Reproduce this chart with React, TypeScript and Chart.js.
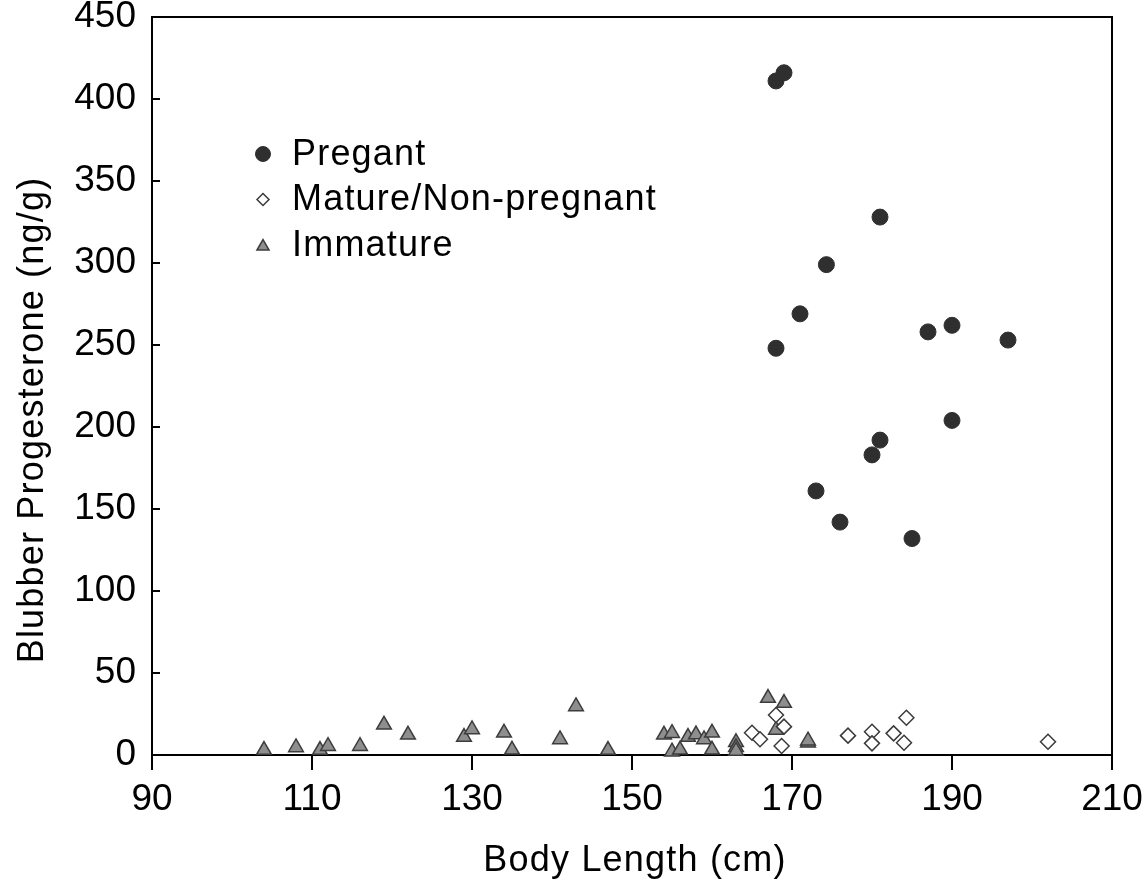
import React, { useEffect, useRef } from 'react';
import { Chart, registerables } from 'chart.js';

Chart.register(...registerables);

const xTicks = [90, 110, 130, 150, 170, 190, 210];
const yTicks = [0, 50, 100, 150, 200, 250, 300, 350, 400, 450];

const seriesLabels = ['Pregant', 'Mature/Non-pregnant', 'Immature'];
const xTitle = 'Body Length (cm)';
const yTitle = 'Blubber Progesterone (ng/g)';

const pregnantX = [168, 169, 181, 174.3, 171, 168, 187, 190, 197, 190, 181, 180, 173, 176, 185];
const pregnantY = [411, 416, 328, 299, 269, 248, 258, 262, 253, 204, 192, 183, 161, 142, 132];

const matureX = [165, 166, 168, 169, 168.7, 177, 180, 180, 182.7, 184.3, 184, 202];
const matureY = [13.6, 9.6, 24.4, 17.3, 5.5, 11.8, 14.2, 7.1, 13.2, 22.7, 7.5, 8.1];

const immatureX = [104, 108, 111, 112, 116, 119, 122, 129, 130, 134, 135, 141, 143, 147, 154, 155, 155, 156, 157, 158, 159, 160, 160, 163, 163, 163, 167, 169, 168, 172, 172];
const immatureY = [3, 4.6, 3, 5.4, 5.4, 18.4, 12.3, 10.9, 15.6, 13.5, 3.2, 9.5, 29.6, 3, 12.3, 13.3, 2, 3.2, 10.9, 12.5, 9.5, 13.5, 3.2, 7.7, 4.7, 2.5, 34.7, 31.7, 15.3, 7.4, 8.7];

const FONT = "'Liberation Sans', Arial, Helvetica, sans-serif";

const toPts = (xs: number[], ys: number[]) => xs.map((x, i) => ({ x, y: ys[i] }));

function drawMarker(ctx: CanvasRenderingContext2D, style: string, x: number, y: number, r: number, fill: string, stroke: string, lw: number) {
  ctx.beginPath();
  if (style === 'circle') {
    ctx.arc(x, y, r, 0, Math.PI * 2);
  } else if (style === 'rectRot') {
    ctx.moveTo(x - r, y);
    ctx.lineTo(x, y - r);
    ctx.lineTo(x + r, y);
    ctx.lineTo(x, y + r);
  } else {
    for (let k = 0; k < 3; k++) {
      const a = (k * 2 * Math.PI) / 3;
      const px = x + Math.sin(a) * r;
      const py = y - Math.cos(a) * r;
      if (k === 0) ctx.moveTo(px, py); else ctx.lineTo(px, py);
    }
  }
  ctx.closePath();
  ctx.fillStyle = fill;
  ctx.fill();
  ctx.lineWidth = lw;
  ctx.strokeStyle = stroke;
  ctx.stroke();
}

const decorPlugin = {
  id: 'decor',
  afterDraw(chart: any) {
    const { ctx, chartArea: ca, scales } = chart;
    ctx.save();
    // top and right frame
    ctx.strokeStyle = '#000';
    ctx.lineWidth = 2;
    ctx.beginPath();
    ctx.moveTo(ca.left, ca.top);
    ctx.lineTo(ca.right, ca.top);
    ctx.lineTo(ca.right, ca.bottom);
    ctx.stroke();
    // inward y ticks
    yTicks.forEach((v) => {
      const p = scales.y.getPixelForValue(v);
      ctx.beginPath();
      ctx.moveTo(ca.left, p);
      ctx.lineTo(ca.left + 8, p);
      ctx.stroke();
    });

    // axis titles
    ctx.fillStyle = '#000';
    ctx.font = `36px ${FONT}`;
    try { (ctx as any).letterSpacing = '1.2px'; } catch (e) {}
    ctx.textAlign = 'center';
    ctx.textBaseline = 'alphabetic';
    ctx.fillText(xTitle, (ca.left + ca.right) / 2 + 3, ca.bottom + 116);

    ctx.save();
    ctx.translate(ca.left - 109, (ca.top + ca.bottom) / 2 + 34);
    ctx.rotate(-Math.PI / 2);
    ctx.fillText(yTitle, 0, 0);
    ctx.restore();

    // legend
    const ds = chart.data.datasets;
    const lx = ca.left + 111;
    const ly = ca.top + 137;
    const gap = 45.5;
    const sizes = [7.5, 6, 7];
    ds.forEach((d: any, i: number) => {
      const cy = ly + i * gap;
      drawMarker(ctx, d.pointStyle, lx, cy + (d.pointStyle === 'triangle' ? 1.5 : 0), sizes[i], d.backgroundColor, d.borderColor, d.borderWidth);
      ctx.fillStyle = '#000';
      ctx.textAlign = 'left';
      ctx.textBaseline = 'middle';
      ctx.fillText(d.label, lx + 29, cy + 1);
    });
    ctx.restore();
  },
};

export default function App() {
  const ref = useRef<HTMLCanvasElement | null>(null);

  useEffect(() => {
    if (!ref.current) return;
    Chart.defaults.font.family = FONT;
    const chart = new Chart(ref.current, {
      type: 'scatter',
      data: {
        datasets: [
          {
            label: seriesLabels[0],
            data: toPts(pregnantX, pregnantY),
            pointStyle: 'circle',
            pointRadius: 8,
            backgroundColor: '#2f2f2f',
            borderColor: '#2f2f2f',
            borderWidth: 1,
            clip: false,
          },
          {
            label: seriesLabels[1],
            data: toPts(matureX, matureY),
            pointStyle: 'rectRot',
            pointRadius: 7.5,
            backgroundColor: '#ffffff',
            borderColor: '#3a3a3a',
            borderWidth: 1.5,
            clip: false,
          },
          {
            label: seriesLabels[2],
            data: toPts(immatureX, immatureY),
            pointStyle: 'triangle',
            pointRadius: 8.5,
            backgroundColor: '#8e8e8e',
            borderColor: '#3c3c3c',
            borderWidth: 1.5,
            clip: false,
          },
        ] as any,
      },
      options: {
        responsive: false,
        maintainAspectRatio: false,
        animation: false,
        layout: { padding: { top: 17, right: 34, left: 0, bottom: 0 } },
        plugins: {
          legend: { display: false },
          tooltip: { enabled: false },
        },
        scales: {
          x: {
            type: 'linear',
            min: 90,
            max: 210,
            afterBuildTicks: (s: any) => {
              s.ticks = xTicks.map((v) => ({ value: v }));
            },
            afterFit: (s: any) => {
              s.height = 130;
              s.paddingLeft = 0;
              s.paddingRight = 0;
            },
            grid: {
              display: true,
              drawOnChartArea: false,
              drawTicks: true,
              tickLength: 15,
              color: '#000',
              lineWidth: 2,
            },
            border: { display: true, color: '#000', width: 2 },
            ticks: {
              color: '#000',
              font: { size: 37 },
              padding: 8,
              maxRotation: 0,
              autoSkip: false,
            },
          },
          y: {
            type: 'linear',
            min: 0,
            max: 450,
            afterBuildTicks: (s: any) => {
              s.ticks = yTicks.map((v) => ({ value: v }));
            },
            afterFit: (s: any) => {
              s.width = 152;
              s.paddingTop = 0;
              s.paddingBottom = 0;
            },
            grid: { display: false, drawTicks: false },
            border: { display: true, color: '#000', width: 2 },
            ticks: {
              color: '#000',
              font: { size: 37 },
              padding: 16,
              autoSkip: false,
            },
          },
        },
      },
      plugins: [decorPlugin],
    });
    return () => chart.destroy();
  }, []);

  return (
    <div style={{ position: 'fixed', left: 0, top: 0, width: 1146, height: 885, background: '#fff' }}>
      <canvas ref={ref} width={1146} height={885} style={{ display: 'block', width: 1146, height: 885 }} />
    </div>
  );
}
